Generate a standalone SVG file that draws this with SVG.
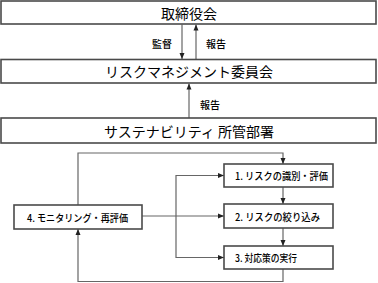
<svg xmlns="http://www.w3.org/2000/svg" width="378" height="283" viewBox="0 0 378 283">
<style>
.box{fill:#fff;stroke:#4a4a4a;stroke-width:1.6}
.ln{fill:none;stroke:#666;stroke-width:1.2}
.t{font-family:"Noto Sans CJK JP","Noto Sans",sans-serif;fill:#000;text-anchor:middle;dominant-baseline:central}
.big{font-size:14px}
.sm{font-size:10px;font-weight:500}
.l{text-anchor:start}
</style>
<defs>
<marker id="ah" viewBox="0 0 6 6" refX="6" refY="3" markerWidth="6" markerHeight="6" markerUnits="userSpaceOnUse" orient="auto">
<path d="M0,0.5 L6,3 L0,5.5 Z" fill="#222"/>
</marker>
</defs>
<rect width="378" height="283" fill="#fff"/>
<g id="connectors">
<path class="ln" d="M182 24.5 V59" marker-end="url(#ah)"/>
<path class="ln" d="M196 59.5 V24.5" marker-end="url(#ah)"/>
<path class="ln" d="M189 118 V83.5" marker-end="url(#ah)"/>
<path class="ln" d="M78 205 V153 H283 V164" marker-end="url(#ah)"/>
<path class="ln" d="M283 187 V204" marker-end="url(#ah)"/>
<path class="ln" d="M283 228 V246" marker-end="url(#ah)"/>
<path class="ln" d="M283 269 V281.5 H78 V229" marker-end="url(#ah)"/>
<path class="ln" d="M142 216 H224" marker-end="url(#ah)"/>
<path class="ln" d="M176 216 V175.5 H224" marker-end="url(#ah)"/>
<path class="ln" d="M176 216 V257.5 H224" marker-end="url(#ah)"/>
<text class="t sm" x="162" y="43">監督</text>
<text class="t sm" x="216" y="43">報告</text>
<text class="t sm" x="210" y="104">報告</text>
</g>
<g id="board">
<rect class="box" x="1" y="1" width="375" height="23"/>
<text class="t big" x="189" y="12.5">取締役会</text>
</g>
<g id="rmc">
<rect class="box" x="1" y="59.5" width="375" height="23.5"/>
<text class="t big" x="189" y="71">リスクマネジメント委員会</text>
</g>
<g id="dept">
<rect class="box" x="1" y="118" width="375" height="25"/>
<text class="t big" x="189" y="130.5">サステナビリティ 所管部署</text>
</g>
<g id="step4">
<rect class="box" x="14" y="205" width="128" height="24"/>
<text class="t sm l" x="27" y="217" textLength="101" lengthAdjust="spacingAndGlyphs">4. モニタリング・再評価</text>
</g>
<g id="step1">
<rect class="box" x="224" y="164" width="109" height="23"/>
<text class="t sm l" x="235" y="175.5" textLength="93" lengthAdjust="spacingAndGlyphs">1. リスクの識別・評価</text>
</g>
<g id="step2">
<rect class="box" x="224" y="204" width="109" height="24"/>
<text class="t sm l" x="235" y="216" textLength="85" lengthAdjust="spacingAndGlyphs">2. リスクの絞り込み</text>
</g>
<g id="step3">
<rect class="box" x="224" y="246" width="109" height="23"/>
<text class="t sm l" x="235" y="257.5" textLength="62" lengthAdjust="spacingAndGlyphs">3. 対応策の実行</text>
</g>
</svg>
